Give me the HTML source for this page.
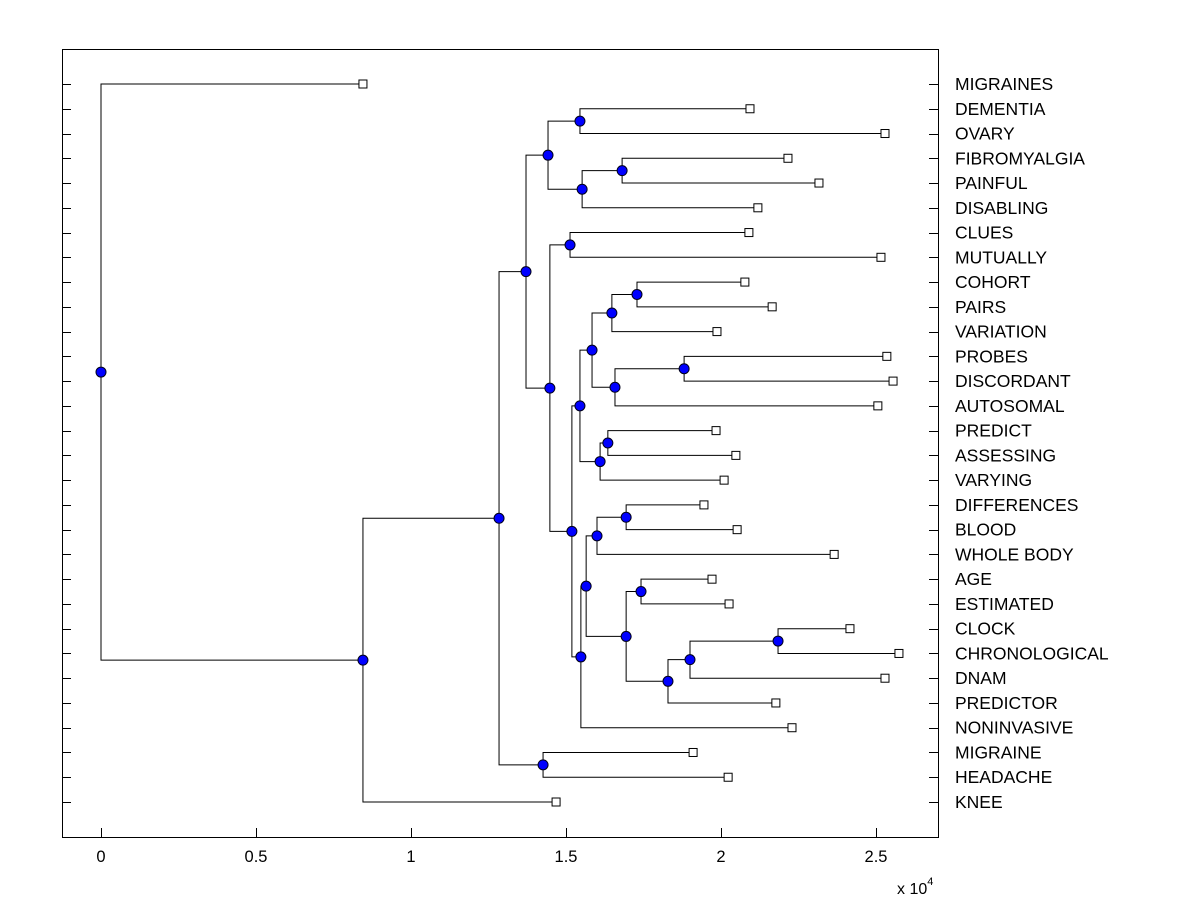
<!DOCTYPE html>
<html><head><meta charset="utf-8"><style>
body{margin:0;background:#fff;}
svg text{font-family:"Liberation Sans",Arial,sans-serif;}
</style></head><body>
<svg id="chart" width="1200" height="900" xmlns="http://www.w3.org/2000/svg">
<rect x="0" y="0" width="1200" height="900" fill="#fff"/>
<rect x="62.5" y="49.5" width="876" height="788" fill="none" stroke="#000" stroke-width="1"/>
<g id="ticks"></g><g id="links"></g><g id="marks"></g><g id="labels"></g>
<text x="897" y="894" font-size="16">x 10<tspan dy="-9" font-size="11">4</tspan></text>
</svg>
<script>
const labels=["MIGRAINES","DEMENTIA","OVARY","FIBROMYALGIA","PAINFUL","DISABLING","CLUES","MUTUALLY","COHORT","PAIRS","VARIATION","PROBES","DISCORDANT","AUTOSOMAL","PREDICT","ASSESSING","VARYING","DIFFERENCES","BLOOD","WHOLE BODY","AGE","ESTIMATED","CLOCK","CHRONOLOGICAL","DNAM","PREDICTOR","NONINVASIVE","MIGRAINE","HEADACHE","KNEE"];
const leafValues=[8450,20935,25290,22160,23160,21190,20900,25160,20770,21650,19870,25350,25550,25060,19840,20480,20100,19450,20520,23650,19710,20260,24160,25740,25290,21770,22290,19100,20230,14680];
const mergeA=[1,3,31,30,6,8,35,11,37,36,14,40,39,17,43,20,22,46,47,45,44,50,42,34,33,27,54,56,0];
const mergeB=[2,4,5,32,7,9,10,12,13,38,15,16,41,18,19,21,23,24,25,48,49,26,51,52,53,28,55,29,57];
const mergeHeights=[15450,16810,15520,14420,15130,17290,16480,18810,16580,15840,16350,16100,15450,16940,16000,17420,21840,19000,18290,16940,15650,15480,15190,14480,13710,14260,12840,8450,0];
const xTicks=[0,5000,10000,15000,20000,25000];
const xTickLabels=["0","0.5","1","1.5","2","2.5"];
const NS="http://www.w3.org/2000/svg";
const X=v=>101+v*0.031;
const Y=i=>84+i*(802-84)/(labels.length-1);
function mk(tag,attrs,parent){const e=document.createElementNS(NS,tag);for(const k in attrs)e.setAttribute(k,attrs[k]);document.getElementById(parent).appendChild(e);return e;}
const nx=[],ny=[];
leafValues.forEach((v,i)=>{nx.push(X(v));ny.push(Y(i));});
mergeA.forEach((a,k)=>{const b=mergeB[k];nx.push(X(mergeHeights[k]));ny.push((ny[a]+ny[b])/2);});
labels.forEach((l,i)=>{
 const y=Math.round(Y(i))+0.5;
 let t=mk('path',{d:`M63 ${y}H71M938 ${y}H929`,stroke:'#000','stroke-width':1},'ticks');
 
 
 let tx=mk('text',{x:955,y:Y(i)+6,'font-size':17.5},'labels');
 tx.textContent=l;
 
 
});
xTicks.forEach((v,i)=>{
 const x=Math.round(X(v))+0.5;
 let t=mk('path',{d:`M${x} 837V828`,stroke:'#000','stroke-width':1},'ticks');
 
 
 let tx=mk('text',{x:X(v),y:862,'font-size':16.5,'text-anchor':'middle'},'labels');
 tx.textContent=xTickLabels[i];
 
 
});
mergeA.forEach((a,k)=>{
 const b=mergeB[k],id=labels.length+k,x=nx[id];
 let p=mk('path',{d:`M${nx[a]} ${ny[a]}H${x}V${ny[b]}H${nx[b]}`,fill:'none',stroke:'#000','stroke-width':1},'links');
 
 
 let c=mk('circle',{cx:x,cy:ny[id],r:5,fill:'#0000ff',stroke:'#000018','stroke-width':1},'marks');
 
 
});
leafValues.forEach((v,i)=>{
 let r=mk('rect',{x:nx[i]-4,y:ny[i]-4,width:8,height:8,fill:'#fff',stroke:'#000','stroke-width':1},'marks');
 
 
});
</script>
</body></html>
